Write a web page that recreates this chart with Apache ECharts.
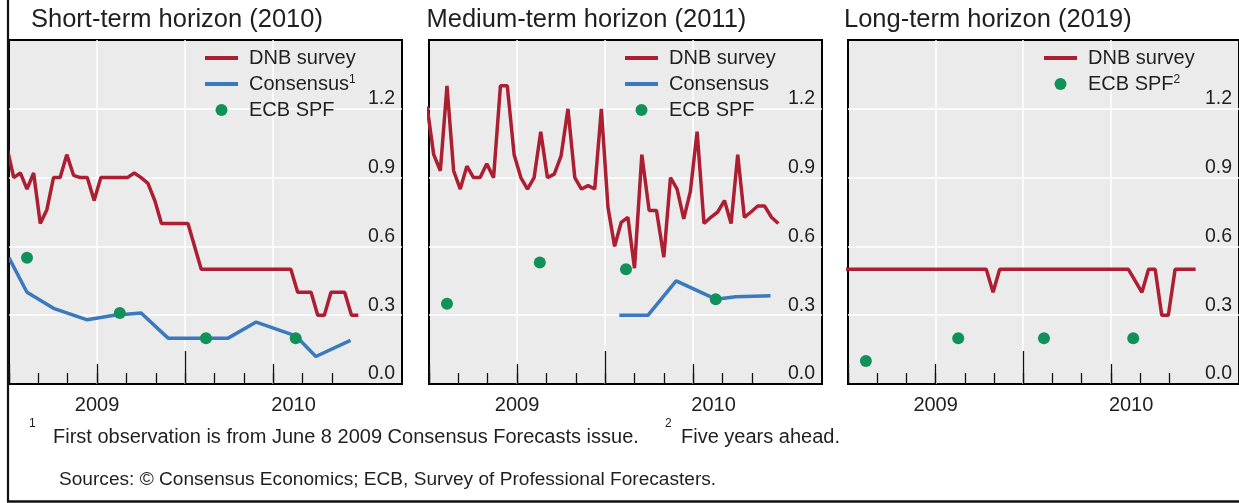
<!DOCTYPE html>
<html>
<head>
<meta charset="utf-8">
<script src="https://cdn.jsdelivr.net/npm/echarts@6/dist/echarts.min.js"></script>
<style>
html,body{margin:0;padding:0;background:#fff;}
#chart{width:1239px;height:503px;}
</style>
</head>
<body>
<div id="chart"></div>
<script>
// ---------------- DATA ----------------
const panelTitles = ['Short-term horizon (2010)', 'Medium-term horizon (2011)', 'Long-term horizon (2019)'];
const seriesNames = ['DNB survey', 'Consensus', 'ECB SPF'];
const axisStart = '2009-07-01';
const axisEnd = '2010-08-13';

// DNB survey: weekly observations starting at this date
const dnbStart = '2009-06-29';
const dnbShort = [1.03, 0.90, 0.92, 0.85, 0.92, 0.70, 0.76, 0.90, 0.90, 1.00, 0.91, 0.90, 0.90, 0.80,
  0.90, 0.90, 0.90, 0.90, 0.90, 0.92, 0.90, 0.875, 0.80, 0.70, 0.70, 0.70, 0.70, 0.70, 0.60, 0.50,
  0.50, 0.50, 0.50, 0.50, 0.50, 0.50, 0.50, 0.50, 0.50, 0.50, 0.50, 0.50, 0.50, 0.40, 0.40, 0.40,
  0.30, 0.30, 0.40, 0.40, 0.40, 0.30, 0.30];
const dnbMedium = [1.21, 1.00, 0.93, 1.30, 0.93, 0.85, 0.95, 0.90, 0.90, 0.96, 0.90, 1.30, 1.30,
  1.00, 0.90, 0.85, 0.90, 1.10, 0.90, 0.915, 0.995, 1.20, 0.90, 0.85, 0.865, 0.85, 1.20, 0.77, 0.60,
  0.705, 0.727, 0.505, 1.00, 0.756, 0.756, 0.553, 0.90, 0.85, 0.72, 0.84, 1.10, 0.70, 0.727, 0.75,
  0.80, 0.70, 1.00, 0.727, 0.75, 0.776, 0.776, 0.727, 0.70];
const dnbLong = [0.50, 0.50, 0.50, 0.50, 0.50, 0.50, 0.50, 0.50, 0.50, 0.50, 0.50, 0.50, 0.50, 0.50,
  0.50, 0.50, 0.50, 0.50, 0.50, 0.50, 0.50, 0.50, 0.40, 0.50, 0.50, 0.50, 0.50, 0.50, 0.50, 0.50,
  0.50, 0.50, 0.50, 0.50, 0.50, 0.50, 0.50, 0.50, 0.50, 0.50, 0.50, 0.50, 0.50, 0.45, 0.40, 0.50,
  0.50, 0.30, 0.30, 0.50, 0.50, 0.50, 0.50];

// Consensus Forecasts (monthly issues)
const consensusShortDates = ['2009-07-01', '2009-07-20', '2009-08-17', '2009-09-21', '2009-10-19',
  '2009-11-16', '2009-12-14', '2010-01-16', '2010-02-14', '2010-03-14', '2010-04-24', '2010-05-15', '2010-06-20'];
const consensusShort = [0.55, 0.40, 0.33, 0.28, 0.30, 0.31, 0.20, 0.20, 0.20, 0.27, 0.21, 0.12, 0.19];
const consensusMediumDates = ['2010-01-16', '2010-02-14', '2010-03-14', '2010-04-24', '2010-05-15', '2010-06-20'];
const consensusMedium = [0.30, 0.30, 0.45, 0.37, 0.38, 0.385];

// ECB Survey of Professional Forecasters (quarterly rounds)
const spfDates = ['2009-07-20', '2009-10-25', '2010-01-23', '2010-04-24'];
const spfShort = [0.55, 0.31, 0.20, 0.20];
const spfMedium = [0.35, 0.53, 0.50, 0.37];
const spfLong = [0.10, 0.20, 0.20, 0.20];

const yMin = 0, yMax = 1.5, yStep = 0.3;

const footnote1 = 'First observation is from June 8 2009 Consensus Forecasts issue.';
const footnote2 = 'Five years ahead.';
const sourcesText = 'Sources: \u00a9 Consensus Economics; ECB, Survey of Professional Forecasters.';

// ---------------- HELPERS ----------------
function toM(s) { // months since Jan 2009 (fractional)
  const [y, m, d] = s.split('-').map(Number);
  const dim = new Date(Date.UTC(y, m, 0)).getUTCDate();
  return (y - 2009) * 12 + (m - 1) + (d - 1) / dim;
}
function weeklyDates(start, n) {
  const [y, m, d] = start.split('-').map(Number);
  const t0 = Date.UTC(y, m - 1, d);
  const out = [];
  for (let i = 0; i < n; i++) out.push(new Date(t0 + i * 7 * 864e5).toISOString().slice(0, 10));
  return out;
}
function pairs(dates, vals) { return dates.map((d, i) => [toM(d), vals[i]]); }

const FONT = '"Liberation Sans", Arial, Helvetica, sans-serif';
const TXT = '#1f1f1f';
const RED = '#ac1f33', BLUE = '#3a79bd', GREEN = '#11915a';

const X_MIN = toM(axisStart), X_MAX = toM(axisEnd);
const dnbDates = weeklyDates(dnbStart, dnbShort.length);
const lastMonth = Math.floor(Math.max(...dnbDates.map(toM)));
const monthTicks = [], quarterTicks = [], yearTicks = [];
for (let m = Math.ceil(X_MIN); m <= lastMonth; m++) {
  monthTicks.push(m);
  if (m % 12 === 0) yearTicks.push(m);
  else if (m % 3 === 0) quarterTicks.push(m);
}
const gridXs = quarterTicks.concat(yearTicks).filter(v => v > X_MIN);
const yearLabelPos = [];
for (let y = 2009; y <= 2011; y++) {
  const s = Math.max((y - 2009) * 12, X_MIN), e = Math.min((y - 2008) * 12, X_MAX);
  if (e > s + 1) yearLabelPos.push((s + e) / 2);
}

const panels = [
  { dnb: dnbShort, cons: pairs(consensusShortDates, consensusShort), spf: spfShort,
    legend: ['DNB survey', 'Consensus', 'ECB SPF'], sup: { 'Consensus': '1' } },
  { dnb: dnbMedium, cons: pairs(consensusMediumDates, consensusMedium), spf: spfMedium,
    legend: ['DNB survey', 'Consensus', 'ECB SPF'], sup: {} },
  { dnb: dnbLong, cons: null, spf: spfLong,
    legend: ['DNB survey', 'ECB SPF'], sup: { 'ECB SPF': '2' } }
];

// ---------------- LAYOUT ----------------
const GRID_LEFT = [9, 429, 848], GRID_TOP = 40, GRID_W = 393, GRID_H = 344;
const TITLE_X = [31, 426.5, 844];
const LEGEND_DX = 196, LEGEND_TOP = 48;
const LINE_ICON = 'path://M0,0 L33,0 L33,4 L0,4 Z';

const grid = [], xAxis = [], yAxis = [], series = [], legend = [];
panels.forEach((p, i) => {
  grid.push({ left: GRID_LEFT[i], top: GRID_TOP, width: GRID_W, height: GRID_H,
    show: true, backgroundColor: '#ebebeb', borderColor: '#000', borderWidth: 2 });
  const base = { gridIndex: i, type: 'value', min: X_MIN, max: X_MAX, position: 'bottom', z: 6,
    axisLine: { show: false }, splitLine: { show: false } };
  xAxis.push(Object.assign({}, base, {
    axisTick: { show: true, inside: true, length: 11, customValues: monthTicks, lineStyle: { color: '#111', width: 1.3 } },
    axisLabel: { show: true, customValues: yearLabelPos, formatter: v => String(2009 + Math.floor(v / 12)),
      fontSize: 20, color: TXT, fontFamily: FONT, margin: 11 }
  }));
  xAxis.push(Object.assign({}, base, {
    axisTick: { show: true, inside: true, length: 20, customValues: quarterTicks, lineStyle: { color: '#111', width: 1.3 } },
    axisLabel: { show: false }
  }));
  xAxis.push(Object.assign({}, base, {
    axisTick: { show: true, inside: true, length: 33, customValues: yearTicks, lineStyle: { color: '#111', width: 1.3 } },
    axisLabel: { show: false }
  }));
  yAxis.push({ gridIndex: i, type: 'value', position: 'right', min: yMin, max: yMax, interval: yStep,
    axisLine: { show: false }, axisTick: { show: false },
    splitLine: { show: true, showMinLine: false, showMaxLine: false, lineStyle: { color: '#ffffff', width: 1.5 } },
    axisLabel: { inside: true, showMaxLabel: false, formatter: v => v.toFixed(1), fontSize: 19.5, color: TXT,
      fontFamily: FONT, margin: 7, verticalAlign: 'bottom', lineHeight: 20 } });

  const xi = i * 3;
  // vertical white gridlines (behind the data)
  series.push({ type: 'line', name: 'grid' + i, xAxisIndex: xi, yAxisIndex: i, data: [], z: 1, silent: true,
    markLine: { z: 1, silent: true, symbol: ['none', 'none'], label: { show: false }, animation: false,
      lineStyle: { color: '#ffffff', width: 1.5, type: 'solid' }, emphasis: { disabled: true },
      data: gridXs.map(v => ({ xAxis: v })) } });
  series.push({ type: 'line', name: 'DNB survey', xAxisIndex: xi, yAxisIndex: i, z: 3,
    data: pairs(dnbDates, p.dnb), showSymbol: false, symbol: 'none', clip: true,
    lineStyle: { color: RED, width: 3.5 }, itemStyle: { color: RED }, emphasis: { disabled: true } });
  if (p.cons) series.push({ type: 'line', name: 'Consensus', xAxisIndex: xi, yAxisIndex: i, z: 3,
    data: p.cons, showSymbol: false, symbol: 'none', clip: true,
    lineStyle: { color: BLUE, width: 3.5 }, itemStyle: { color: BLUE }, emphasis: { disabled: true } });
  series.push({ type: 'scatter', name: 'ECB SPF', xAxisIndex: xi, yAxisIndex: i, z: 4,
    data: pairs(spfDates, p.spf), symbol: 'circle', symbolSize: 12,
    itemStyle: { color: GREEN, opacity: 1 }, emphasis: { disabled: true } });

  legend.push({ left: GRID_LEFT[i] + LEGEND_DX, top: LEGEND_TOP, orient: 'vertical', padding: 0,
    itemWidth: 33, itemHeight: 12, itemGap: 6, selectedMode: false,
    itemStyle: { borderWidth: 0, opacity: 1 }, lineStyle: { width: 0 },
    data: p.legend.map(n => ({ name: n, icon: n === 'ECB SPF' ? 'circle' : LINE_ICON })),
    formatter: n => '{t|' + n + '}' + (p.sup[n] ? '{s|' + p.sup[n] + '}' : ''),
    textStyle: { fontSize: 20, color: TXT, fontFamily: FONT,
      rich: { t: { fontSize: 20, lineHeight: 20, color: TXT, fontFamily: FONT, padding: [0, 0, 0, 6] },
              s: { fontSize: 12, lineHeight: 12, color: TXT, fontFamily: FONT, verticalAlign: 'top' } } } });
});

const graphic = [
  { type: 'line', shape: { x1: 8, y1: 0, x2: 8, y2: 502 }, style: { stroke: '#111', lineWidth: 2.2 }, z: 10 },
  { type: 'line', shape: { x1: 7, y1: 501.5, x2: 1239, y2: 501.5 }, style: { stroke: '#111', lineWidth: 2.5 }, z: 10 }
];
panelTitles.forEach((t, i) => graphic.push({ type: 'text', x: TITLE_X[i], y: 20,
  style: { text: t, fontSize: 25.5, fontFamily: FONT, fill: TXT, textVerticalAlign: 'middle' } }));
graphic.push({ type: 'text', x: 29, y: 424, style: { text: '1', fontSize: 12, fontFamily: FONT, fill: TXT, textVerticalAlign: 'middle' } });
graphic.push({ type: 'text', x: 53, y: 437, style: { text: footnote1, fontSize: 20, fontFamily: FONT, fill: TXT, textVerticalAlign: 'middle' } });
graphic.push({ type: 'text', x: 665, y: 424, style: { text: '2', fontSize: 12, fontFamily: FONT, fill: TXT, textVerticalAlign: 'middle' } });
graphic.push({ type: 'text', x: 681, y: 437, style: { text: footnote2, fontSize: 20, fontFamily: FONT, fill: TXT, textVerticalAlign: 'middle' } });
graphic.push({ type: 'text', x: 59, y: 480, style: { text: sourcesText, fontSize: 19.1, fontFamily: FONT, fill: TXT, textVerticalAlign: 'middle' } });

const chart = echarts.init(document.getElementById('chart'), null, { renderer: 'canvas' });
chart.setOption({
  animation: false,
  backgroundColor: '#ffffff',
  textStyle: { fontFamily: FONT },
  grid, xAxis, yAxis, series, legend, graphic
});
</script>
</body>
</html>
